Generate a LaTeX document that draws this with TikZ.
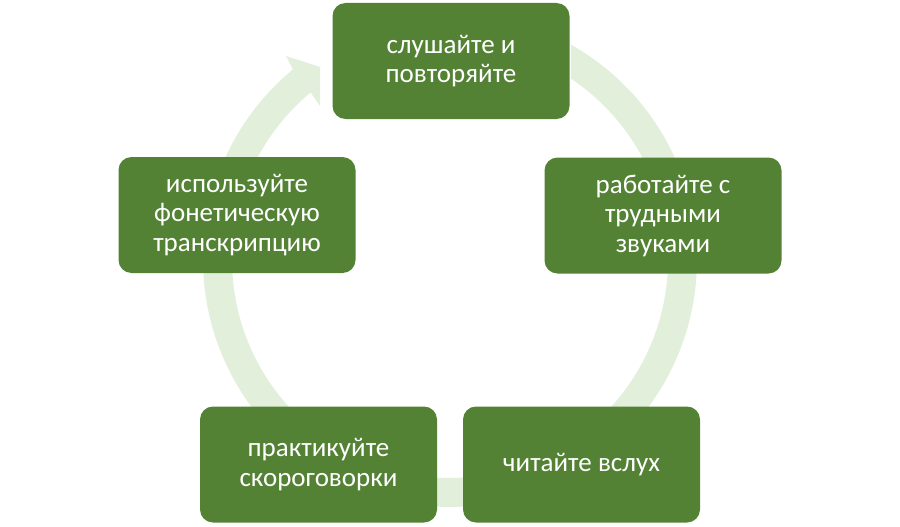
\documentclass[tikz,border=0pt]{standalone}
\usepackage{fontspec}
\setmainfont{Carlito}
\definecolor{boxgreen}{HTML}{548235}
\definecolor{ringgreen}{HTML}{E2EFDA}
\begin{document}
\begin{tikzpicture}[x=1pt,y=-1pt,
  stepbox/.style={fill=boxgreen, draw=none, rounded corners=13pt,
    minimum width=237pt, minimum height=116pt, inner sep=0pt,
    text=white, align=center, font=\fontsize{27}{29.5}\selectfont}]
\useasboundingbox (0,0) rectangle (900,527);
% ring with arrowhead
\fill[ringgreen]
  plot[domain=-60.7:230.5, samples=120] ({450+247*cos(\x)},{260+247*sin(\x)})
  -- (286,56) -- (320,67) -- (320,106) -- (311,93)
  -- plot[domain=230.5:-56.3, samples=120] ({450+218*cos(\x)},{260+218*sin(\x)})
  -- cycle;
% boxes
\node[stepbox] (a) at (451,61) {слушайте и\\повторяйте};
\node[stepbox] (b) at (663,215.5) {работайте с\\трудными\\звуками};
\node[stepbox] (c) at (581.5,464.5) {читайте вслух};
\node[stepbox] (d) at (318.5,464.5) {практикуйте\\скороговорки};
\node[stepbox] (e) at (237,215) {используйте\\фонетическую\\транскрипцию};
\end{tikzpicture}
\end{document}
